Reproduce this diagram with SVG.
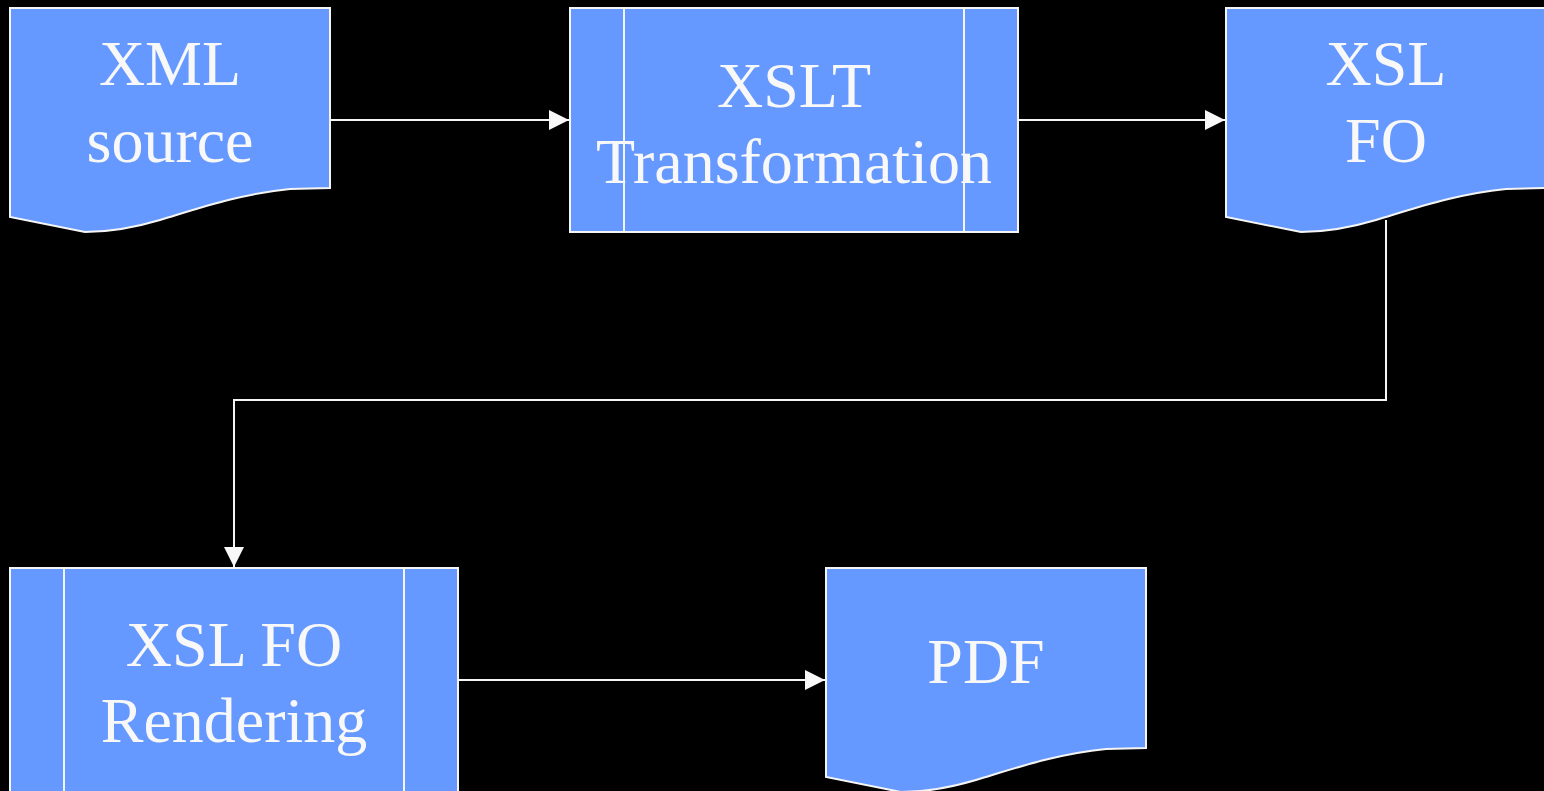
<svg xmlns="http://www.w3.org/2000/svg" width="1544" height="791" viewBox="0 0 1544 791">
<defs>
<style>
.shape{fill:#6699FF;stroke:#F5F5F5;stroke-width:2}
.line{fill:none;stroke:#F5F5F5;stroke-width:2}
.lbl{font-family:"Liberation Serif","Times New Roman",serif;font-size:64px;fill:#F8F8F8;text-anchor:middle}
</style>
<marker id="arr" markerWidth="20" markerHeight="20" refX="20" refY="10" orient="auto" markerUnits="userSpaceOnUse">
<path d="M0,0 L20,10 L0,20 Z" fill="#F8F8F8"/>
</marker>
</defs>
<rect width="1544" height="791" fill="#000000"/>
<g id="connectors">
<path class="line" d="M330,120 H569" marker-end="url(#arr)"/>
<path class="line" d="M1018,120 H1225" marker-end="url(#arr)"/>
<path class="line" d="M1386,220 V400 H234 V567" marker-end="url(#arr)"/>
<path class="line" d="M458,680 H825" marker-end="url(#arr)"/>
</g>
<g id="xml-source">
<path class="shape" d="M10,8 H330 V188 L290,189 C240,194 200,208 160,220 C130,229 105,232 85,232 L10,217 Z"/>
<text class="lbl" x="170" y="85">XML</text>
<text class="lbl" x="170" y="162">source</text>
</g>
<g id="xslt-transformation">
<rect class="shape" x="570" y="8" width="448" height="224"/>
<path class="line" d="M624,8 V232 M964,8 V232"/>
<text class="lbl" x="794" y="107">XSLT</text>
<text class="lbl" x="794" y="183">Transformation</text>
</g>
<g id="xsl-fo">
<path class="shape" d="M1226,8 H1546 V188 L1506,189 C1456,194 1416,208 1376,220 C1346,229 1321,232 1301,232 L1226,217 Z"/>
<text class="lbl" x="1386" y="85">XSL</text>
<text class="lbl" x="1386" y="162">FO</text>
</g>
<g id="xsl-fo-rendering">
<rect class="shape" x="10" y="568" width="448" height="224"/>
<path class="line" d="M64,568 V792 M404,568 V792"/>
<text class="lbl" x="234" y="666">XSL FO</text>
<text class="lbl" x="234" y="742">Rendering</text>
</g>
<g id="pdf">
<path class="shape" d="M826,568 H1146 V748 L1106,749 C1056,754 1016,768 976,780 C946,789 921,792 901,792 L826,777 Z"/>
<text class="lbl" x="986" y="683">PDF</text>
</g>
</svg>
